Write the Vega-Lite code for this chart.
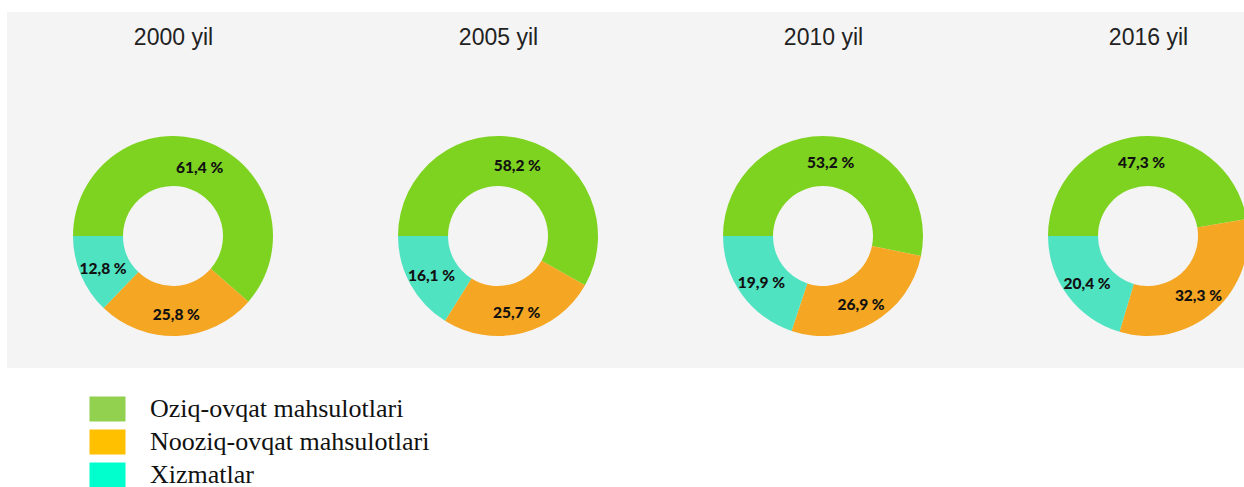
{
  "$schema": "https://vega.github.io/schema/vega-lite/v6.json",
  "width": 1237,
  "height": 356,
  "autosize": {"type": "none"},
  "padding": {"left": 7, "top": 12, "right": 0, "bottom": 119},
  "background": "white",
  "view": {"fill": "#f4f4f4", "stroke": null},
  "datasets": {
    "shares": [
      {"year": "2000", "category": "Oziq-ovqat mahsulotlari", "k": 1, "value": 61.4, "label": "61,4 %"},
      {"year": "2000", "category": "Nooziq-ovqat mahsulotlari", "k": 2, "value": 25.8, "label": "25,8 %"},
      {"year": "2000", "category": "Xizmatlar", "k": 3, "value": 12.8, "label": "12,8 %"},
      {"year": "2005", "category": "Oziq-ovqat mahsulotlari", "k": 1, "value": 58.2, "label": "58,2 %"},
      {"year": "2005", "category": "Nooziq-ovqat mahsulotlari", "k": 2, "value": 25.7, "label": "25,7 %"},
      {"year": "2005", "category": "Xizmatlar", "k": 3, "value": 16.1, "label": "16,1 %"},
      {"year": "2010", "category": "Oziq-ovqat mahsulotlari", "k": 1, "value": 53.2, "label": "53,2 %"},
      {"year": "2010", "category": "Nooziq-ovqat mahsulotlari", "k": 2, "value": 26.9, "label": "26,9 %"},
      {"year": "2010", "category": "Xizmatlar", "k": 3, "value": 19.9, "label": "19,9 %"},
      {"year": "2016", "category": "Oziq-ovqat mahsulotlari", "k": 1, "value": 47.3, "label": "47,3 %"},
      {"year": "2016", "category": "Nooziq-ovqat mahsulotlari", "k": 2, "value": 32.3, "label": "32,3 %"},
      {"year": "2016", "category": "Xizmatlar", "k": 3, "value": 20.4, "label": "20,4 %"}
    ],
    "legendItems": [
      {"cat": "Oziq-ovqat mahsulotlari"},
      {"cat": "Nooziq-ovqat mahsulotlari"},
      {"cat": "Xizmatlar"}
    ]
  },
  "layer": [
    {
      "data": {"name": "legendItems"},
      "mark": {"type": "text"},
      "encoding": {
        "text": {"value": ""},
        "color": {
          "field": "cat", "type": "nominal",
          "scale": {
            "domain": ["Oziq-ovqat mahsulotlari", "Nooziq-ovqat mahsulotlari", "Xizmatlar"],
            "range": ["#92d050", "#ffc000", "#00ffcc"]
          },
          "legend": {
            "orient": "none", "legendX": 87.5, "legendY": 384, "title": null,
            "symbolType": "M-1.44,-1L1.44,-1L1.44,1L-1.44,1Z", "symbolSize": 625,
            "symbolStrokeWidth": 0, "symbolOpacity": 1,
            "labelFont": "Liberation Serif", "labelFontSize": 26, "labelColor": "#111111",
            "labelOffset": 29.5, "rowPadding": 7, "padding": 0, "labelLimit": 600
          }
        }
      }
    },
    {
      "data": {"name": "shares"},
      "transform": [
        {"stack": "value", "groupby": ["year"], "sort": [{"field": "k", "order": "ascending"}], "as": ["v0", "v1"]}
      ],
      "layer": [
        {
          "mark": {"type": "arc", "innerRadius": 50, "outerRadius": 100, "yOffset": 46, "stroke": null},
          "encoding": {
            "x": {
              "field": "year", "type": "nominal",
              "scale": {"type": "point", "range": [166, 1141], "padding": 0},
              "axis": {
                "orient": "top", "offset": -32, "labelPadding": 0, "labelBaseline": "alphabetic",
                "domain": false, "ticks": false, "grid": false, "title": null,
                "labelExpr": "datum.label + ' yil'",
                "labelFont": "Liberation Sans", "labelFontSize": 23, "labelColor": "#222222", "labelAngle": 0
              }
            },
            "theta": {
              "field": "v0", "type": "quantitative", "stack": null,
              "scale": {"domain": [0, 100], "range": [4.71238898, 10.99557429]}
            },
            "theta2": {"field": "v1"},
            "fill": {
              "field": "category", "type": "nominal",
              "scale": {
                "domain": ["Oziq-ovqat mahsulotlari", "Nooziq-ovqat mahsulotlari", "Xizmatlar"],
                "range": ["#7ed321", "#f5a623", "#50e3c2"]
              },
              "legend": null
            }
          }
        },
        {
          "transform": [
            {"fold": ["v0", "v1"], "as": ["edge", "ang"]},
            {"aggregate": [{"op": "mean", "field": "ang", "as": "mid"}], "groupby": ["year", "category", "label"]}
          ],
          "mark": {"type": "text", "radius": 76, "yOffset": 49, "font": "Lato", "fontWeight": 900, "fontSize": 15.5, "fill": "#111111"},
          "encoding": {
            "x": {"field": "year", "type": "nominal"},
            "theta": {"field": "mid", "type": "quantitative", "stack": null},
            "text": {"field": "label", "type": "nominal"}
          }
        }
      ]
    }
  ]
}
